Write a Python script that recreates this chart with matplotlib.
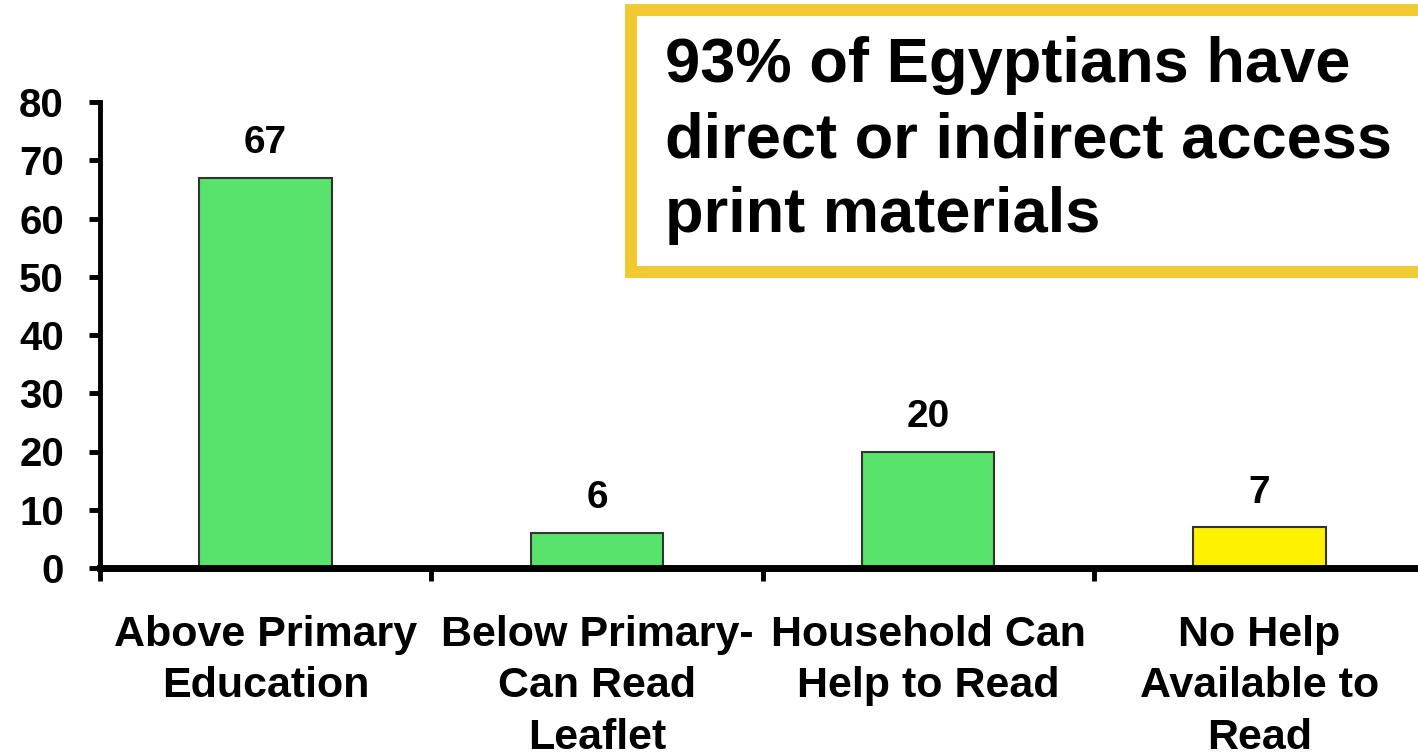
import matplotlib.pyplot as plt
from matplotlib.patches import Rectangle

plt.rcParams['font.family'] = ['Liberation Sans', 'DejaVu Sans']

categories = ['Above Primary\nEducation', 'Below Primary-\nCan Read\nLeaflet',
              'Household Can\nHelp to Read', 'No Help\nAvailable to\nRead']
values = [67, 6, 20, 7]
colors = ['#58E36C', '#58E36C', '#58E36C', '#FFF200']
yticks = [0, 10, 20, 30, 40, 50, 60, 70, 80]
headline = '93% of Egyptians have\ndirect or indirect access\nprint materials'

fig = plt.figure(figsize=(14.18, 7.53), dpi=100)
ax = fig.add_axes([100 / 1418, 185 / 753, 1325 / 1418, 466 / 753])

x = range(len(values))
bars = ax.bar(x, values, width=0.4, color=colors, edgecolor='#333333', linewidth=1.5)
for b, v in zip(bars, values):
    ax.annotate(str(v), (b.get_x() + b.get_width() / 2, v), xytext=(0, 12),
                textcoords='offset points', ha='center', va='bottom',
                fontsize=28, fontweight='bold')

ax.set_xlim(-0.5, 3.5)
ax.set_ylim(0, 80)
ax.set_yticks(yticks)
ax.set_yticklabels([str(t) for t in yticks], fontsize=29, fontweight='bold')
ax.tick_params(axis='y', length=8, width=3.5, pad=18)

# category labels sit on major ticks, the tick marks go between categories
ax.set_xticks(list(x))
ax.set_xticklabels(categories, fontsize=31, fontweight='bold', linespacing=1.36)
ax.tick_params(axis='x', which='major', length=0, pad=34)
ax.set_xticks([-0.5, 0.5, 1.5, 2.5, 3.5], minor=True)
ax.tick_params(axis='x', which='minor', length=9, width=3.5)

for s in ['top', 'right']:
    ax.spines[s].set_visible(False)
ax.spines['left'].set_linewidth(3.5)
ax.spines['bottom'].set_linewidth(5)

# headline box in the top right corner
fig.add_artist(Rectangle((631 / 1418, 481 / 753), 820 / 1418, 262 / 753,
                         transform=fig.transFigure, facecolor='white',
                         edgecolor='#F0CA30', linewidth=8.6, zorder=5))
fig.text(665 / 1418, 1 - 36 / 753, headline, transform=fig.transFigure,
         ha='left', va='top', fontsize=45.5, fontweight='bold', linespacing=1.35,
         zorder=6)

fig.savefig('out.png', dpi=100)
